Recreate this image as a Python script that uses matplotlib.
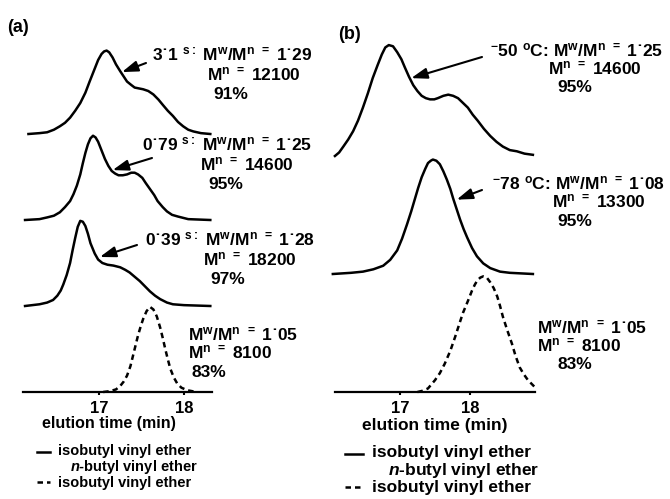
import matplotlib

matplotlib.use("Agg")
import matplotlib.pyplot as plt
from matplotlib.lines import Line2D

W, H = 670, 499

# panel (a): reaction time series, elution time (min) vs normalised RI signal
a_31s_x = [16.17, 16.30, 16.39, 16.47, 16.54, 16.60, 16.66, 16.72, 16.78, 16.84, 16.89, 16.95,
           16.99, 17.03, 17.06, 17.09, 17.12, 17.16, 17.20, 17.25, 17.29, 17.33, 17.38, 17.42,
           17.47, 17.52, 17.58, 17.64, 17.70, 17.75, 17.81, 17.87, 17.93, 17.99, 18.05, 18.11,
           18.20, 18.31]
a_31s_y = [0.00, 0.01, 0.02, 0.05, 0.09, 0.13, 0.19, 0.27, 0.36, 0.48, 0.61, 0.76,
           0.86, 0.93, 0.96, 0.97, 0.95, 0.89, 0.81, 0.73, 0.67, 0.61, 0.57, 0.54,
           0.53, 0.52, 0.50, 0.46, 0.40, 0.34, 0.27, 0.21, 0.14, 0.09, 0.05, 0.03,
           0.01, 0.00]

a_079s_x = [16.13, 16.30, 16.39, 16.47, 16.54, 16.60, 16.66, 16.70, 16.74, 16.78, 16.81, 16.84,
            16.87, 16.90, 16.93, 16.96, 16.99, 17.03, 17.07, 17.11, 17.15, 17.19, 17.23, 17.28,
            17.33, 17.38, 17.42, 17.46, 17.51, 17.55, 17.60, 17.65, 17.69, 17.75, 17.80, 17.86,
            17.93, 18.05, 18.31]
a_079s_y = [0.00, 0.01, 0.03, 0.05, 0.09, 0.15, 0.22, 0.30, 0.40, 0.53, 0.66, 0.78,
            0.88, 0.95, 0.98, 0.96, 0.91, 0.81, 0.71, 0.63, 0.57, 0.54, 0.52, 0.52,
            0.53, 0.55, 0.55, 0.53, 0.49, 0.43, 0.36, 0.29, 0.22, 0.15, 0.10, 0.06,
            0.04, 0.01, 0.00]

a_039s_x = [16.13, 16.30, 16.39, 16.46, 16.51, 16.55, 16.58, 16.62, 16.66, 16.69, 16.72, 16.75,
            16.78, 16.81, 16.84, 16.87, 16.90, 16.95, 16.99, 17.04, 17.10, 17.17, 17.25, 17.31,
            17.36, 17.42, 17.48, 17.54, 17.60, 17.66, 17.72, 17.80, 17.87, 18.00, 18.31]
a_039s_y = [0.00, 0.02, 0.04, 0.07, 0.12, 0.18, 0.25, 0.36, 0.50, 0.65, 0.79, 0.92,
            0.99, 0.98, 0.93, 0.84, 0.73, 0.61, 0.54, 0.50, 0.48, 0.47, 0.45, 0.42,
            0.39, 0.34, 0.29, 0.23, 0.17, 0.12, 0.08, 0.04, 0.02, 0.01, 0.00]

a_ref_x = [17.05, 17.13, 17.20, 17.25, 17.29, 17.33, 17.37, 17.40, 17.43, 17.46, 17.49,
           17.52, 17.56, 17.60, 17.64, 17.68, 17.72, 17.75, 17.78, 17.81, 17.84, 17.88, 17.92,
           17.97, 18.04, 18.15]
a_ref_y = [0.00, 0.01, 0.03, 0.07, 0.12, 0.19, 0.30, 0.42, 0.54, 0.66, 0.76,
           0.85, 0.94, 0.99, 0.96, 0.88, 0.75, 0.63, 0.50, 0.38, 0.27, 0.17, 0.10,
           0.05, 0.02, 0.00]

a_times = ["3˙1", "0˙79", "0˙39"]
a_pdi = ["1˙29", "1˙25", "1˙28"]
a_mn = ["12100", "14600", "18200"]
a_yield = ["91%", "95%", "97%"]

# panel (b): temperature series
b_m50_x = [16.07, 16.13, 16.19, 16.26, 16.33, 16.40, 16.47, 16.54, 16.61, 16.68, 16.74, 16.79,
           16.84, 16.90, 16.96, 17.02, 17.07, 17.13, 17.19, 17.25, 17.31, 17.37, 17.43, 17.49,
           17.54, 17.62, 17.69, 17.76, 17.83, 17.90, 17.97, 18.04, 18.11, 18.20, 18.29, 18.38,
           18.47, 18.57, 18.67, 18.78, 18.90]
b_m50_y = [0.00, 0.03, 0.08, 0.14, 0.21, 0.30, 0.41, 0.53, 0.66, 0.77, 0.86, 0.92,
           0.94, 0.93, 0.88, 0.82, 0.75, 0.67, 0.60, 0.55, 0.51, 0.49, 0.48, 0.48,
           0.49, 0.51, 0.52, 0.51, 0.49, 0.45, 0.41, 0.35, 0.30, 0.23, 0.17, 0.12,
           0.08, 0.05, 0.04, 0.02, 0.01]

b_m78_x = [16.04, 16.30, 16.47, 16.62, 16.76, 16.86, 16.96, 17.03, 17.10, 17.16, 17.21, 17.26,
           17.31, 17.36, 17.40, 17.44, 17.47, 17.52, 17.57, 17.62, 17.67, 17.72, 17.76, 17.81,
           17.86, 17.91, 17.96, 18.03, 18.10, 18.19, 18.29, 18.43, 18.57, 18.90]
b_m78_y = [0.00, 0.01, 0.02, 0.04, 0.07, 0.12, 0.20, 0.30, 0.42, 0.53, 0.63, 0.73,
           0.82, 0.89, 0.94, 0.96, 0.97, 0.96, 0.93, 0.87, 0.80, 0.72, 0.64, 0.55,
           0.46, 0.38, 0.31, 0.22, 0.15, 0.09, 0.05, 0.02, 0.01, 0.00]

b_ref_x = [17.25, 17.32, 17.40, 17.50, 17.57, 17.64, 17.72, 17.79, 17.85, 17.90, 17.97,
           18.03, 18.07, 18.11, 18.15, 18.19, 18.24, 18.29, 18.34, 18.39, 18.43, 18.47, 18.53,
           18.60, 18.65, 18.71, 18.77, 18.83, 18.93]
b_ref_y = [0.00, 0.01, 0.03, 0.10, 0.16, 0.24, 0.35, 0.47, 0.58, 0.67, 0.77,
           0.86, 0.91, 0.95, 0.97, 0.98, 0.97, 0.93, 0.88, 0.81, 0.73, 0.64, 0.53,
           0.41, 0.31, 0.21, 0.15, 0.10, 0.04]

b_temps = ["50", "78"]
b_pdi = ["1˙25", "1˙08"]
b_mn = ["14600", "13300"]
b_yield = ["95%", "95%"]

ref_pdi = "1˙05"
ref_mn = "8100"
ref_yield = "83%"

plt.rcParams.update({
    "font.family": ["Liberation Sans", "DejaVu Sans"],
    "font.weight": "bold",
    "mathtext.fontset": "custom",
    "mathtext.rm": "Liberation Sans:bold",
    "mathtext.it": "Liberation Sans:bold:italic",
    "mathtext.bf": "Liberation Sans:bold",
    "mathtext.default": "rm",
})

PDI = "M$^{w}$/M$^{n}$ $^{=}$ "
MN = "M$^{n}$ $^{=}$ "
DASH = (0, (2.2, 1.6))
ARROW = dict(arrowstyle="-|>,head_length=0.8,head_width=0.27", color="black",
             lw=1.5, shrinkA=0, shrinkB=0, mutation_scale=12)


def fpos(px, py):
    return px / W, 1 - py / H


def setup_axis(ax, xlim, ylim):
    ax.set_xlim(xlim)
    ax.set_ylim(ylim)
    for side in ("left", "right", "top"):
        ax.spines[side].set_visible(False)
    ax.spines["bottom"].set_linewidth(1.6)
    ax.set_yticks([])
    ax.set_xticks([17, 18])
    ax.tick_params(axis="x", direction="out", length=2.5, width=1.5, pad=4, labelsize=12)
    ax.patch.set_alpha(0)


def trace(ax, x, y, offset, dashed=False):
    ls = DASH if dashed else "-"
    ax.plot(x, [v + offset for v in y], color="black", lw=1.8, ls=ls,
            solid_joinstyle="round", clip_on=False)


def label(fig, s, px, py, size=12.5, ha="left"):
    fig.text(*fpos(px, py), s, fontsize=size, ha=ha, va="baseline")


def arrow(ax, tip, tail_px):
    ax.annotate("", xy=tip, xytext=(tail_px[0], H - tail_px[1]),
                textcoords="figure pixels", arrowprops=ARROW, annotation_clip=False)


def legend(fig, x_line, x_text, x_text2, ys, size):
    y1, y2, y3 = ys
    fig.add_artist(Line2D([x_line[0] / W, x_line[1] / W], [1 - (y1 - 3) / H] * 2,
                          color="black", lw=1.8))
    label(fig, "isobutyl vinyl ether", x_text, y1, size)
    label(fig, "$\\mathit{n}$-butyl vinyl ether", x_text2, y2, size)
    fig.add_artist(Line2D([x_line[0] / W, x_line[1] / W], [1 - (y3 - 5) / H] * 2,
                          color="black", lw=1.8, ls=DASH))
    label(fig, "isobutyl vinyl ether", x_text, y3, size)


def main() -> None:
    fig = plt.figure(figsize=(W / 100, H / 100), dpi=100)

    # ---- panel (a)
    ax_a = fig.add_axes([23 / W, 1 - 392 / H, 189 / W, 362 / H])
    setup_axis(ax_a, (16.106, 18.33), (0, 362 / 86))
    trace(ax_a, a_31s_x, a_31s_y, 3)
    trace(ax_a, a_079s_x, a_079s_y, 2)
    trace(ax_a, a_039s_x, a_039s_y, 1)
    trace(ax_a, a_ref_x, a_ref_y, 0, dashed=True)

    label(fig, "(a)", 7, 32, 13)
    rows = [(152, 60, 207, 213), (142, 150, 200, 208), (145, 245, 203, 210)]
    tips = [((17.27, 3.72), (146, 63)), ((17.16, 2.58), (152, 158)), ((17.01, 1.57), (137, 245))]
    for i, (x1, y1, x2, x3) in enumerate(rows):
        label(fig, f"{a_times[i]} $^{{s:}}$ " + PDI + a_pdi[i], x1, y1)
        label(fig, MN + a_mn[i], x2, y1 + 20)
        label(fig, a_yield[i], x3, y1 + 39)
        arrow(ax_a, *tips[i])
    label(fig, PDI + ref_pdi, 188, 340)
    label(fig, MN + ref_mn, 188, 358)
    label(fig, ref_yield, 192, 377)

    label(fig, "elution time (min)", 109, 428, 11.5, ha="center")
    legend(fig, (37, 50), 58, 70, (455, 471, 487), 10.5)

    # ---- panel (b)
    ax_b = fig.add_axes([335 / W, 1 - 392 / H, 200 / W, 362 / H])
    setup_axis(ax_b, (16.071, 18.93), (0, 362 / 118))
    trace(ax_b, b_m50_x, b_m50_y, 2)
    trace(ax_b, b_m78_x, b_m78_y, 1)
    trace(ax_b, b_ref_x, b_ref_y, 0, dashed=True)

    label(fig, "(b)", 338, 39, 13)
    rows_b = [(490, 56, 548, 557, 92), (492, 189, 552, 557, 226)]
    tips_b = [((17.16, 2.66), (482, 57)), ((17.81, 1.63), (482, 190))]
    for i, (x1, y1, x2, x3, y3) in enumerate(rows_b):
        label(fig, f"$^{{-}}${b_temps[i]} $^{{o}}$C: " + PDI + b_pdi[i], x1, y1)
        label(fig, MN + b_mn[i], x2, y1 + 18)
        label(fig, b_yield[i], x3, y3)
        arrow(ax_b, *tips_b[i])
    label(fig, PDI + ref_pdi, 537, 333)
    label(fig, MN + ref_mn, 537, 351)
    label(fig, ref_yield, 557, 369)

    label(fig, "elution time (min)", 435, 430, 12.5, ha="center")
    legend(fig, (345, 363), 372, 388, (457, 475, 492), 12.5)

    fig.savefig("out.png", dpi=100)
    plt.close(fig)


if __name__ == "__main__":
    main()
